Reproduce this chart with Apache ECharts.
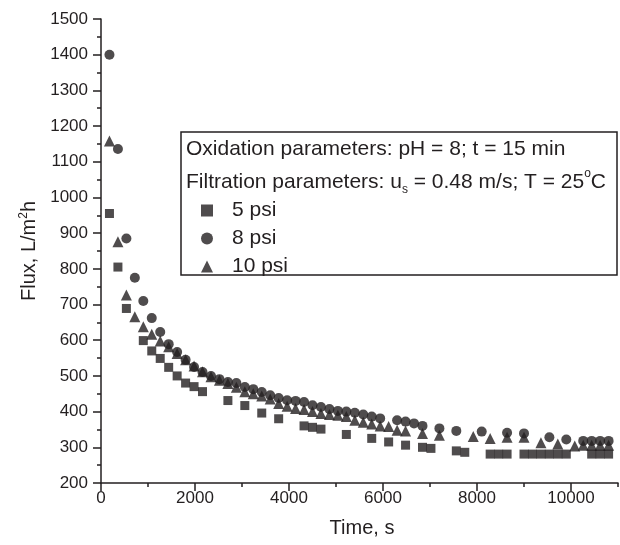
<!DOCTYPE html>
<html><head><meta charset="utf-8">
<script src="https://cdn.jsdelivr.net/npm/echarts@6/dist/echarts.min.js"></script>
<style>html,body{margin:0;padding:0;background:#fff}#c{width:620px;height:545px}</style>
</head><body><div id="c"></div>
<script>
// ---- data (time in s, flux in L/m2h) ----
const seriesNames = ['5 psi', '8 psi', '10 psi'];
const time5 = [180,360,540,900,1080,1260,1440,1620,1800,1980,2160,2700,3060,3420,3780,4320,4500,4680,5220,5760,6120,6480,6840,7020,7560,7740,8280,8460,8640,9000,9180,9360,9540,9720,9900,10440,10620,10800];
const flux5 = [955,805,689,599,570,549,524,500,480,470,456,431,417,396,380,360,356,351,336,325,315,306,300,297,290,286,281,281,281,281,281,281,281,281,281,281,281,281];
const time8 = [180,360,540,720,900,1080,1260,1440,1620,1800,1980,2160,2340,2520,2700,2880,3060,3240,3420,3600,3780,3960,4140,4320,4500,4680,4860,5040,5220,5400,5580,5760,5940,6300,6480,6660,6840,7200,7560,8100,8640,9000,9540,9900,10260,10440,10620,10800];
const flux8 = [1400,1136,885,775,710,662,623,589,567,545,525,511,500,491,483,480,469,463,455,446,438,432,430,427,418,413,407,402,400,397,392,386,381,376,372,367,360,353,346,344,341,339,328,322,318,318,318,318];
const time10 = [180,360,540,720,900,1080,1260,1440,1620,1800,1980,2160,2340,2520,2700,2880,3060,3240,3420,3600,3780,3960,4140,4320,4500,4680,4860,5040,5220,5400,5580,5760,5940,6120,6300,6480,6840,7200,7920,8280,8640,9000,9360,9720,10080,10260,10440,10620,10800];
const flux10 = [1158,876,727,666,638,617,598,582,563,545,528,512,498,488,479,468,456,450,444,435,423,415,409,406,400,395,392,390,386,376,370,365,360,358,348,346,339,334,330,325,328,328,313,309,304,306,306,306,306];
const xTickLabels = [0,2000,4000,6000,8000,10000];
const xMinorTicks = [1000,3000,5000,7000,9000,11000];
const yTickLabels = [200,300,400,500,600,700,800,900,1000,1100,1200,1300,1400,1500];

const pairs = (t, f) => t.map((v, i) => [v, f[i]]);
const INK = '#231f20';
const FONT = 'Liberation Sans, Arial, sans-serif';

const chart = echarts.init(document.getElementById('c'), null, {renderer: 'canvas'});
chart.setOption({
  animation: false,
  backgroundColor: '#fff',
  grid: {left: 101, top: 19, width: 517, height: 464, containLabel: false},
  xAxis: [{
    type: 'value', min: 0, max: 11000, interval: 1000, position: 'bottom',
    axisLine: {show: true, lineStyle: {color: INK, width: 1.5}},
    axisTick: {show: true, length: 8, customValues: xTickLabels, lineStyle: {color: INK, width: 1.5}},
    splitLine: {show: false},
    axisLabel: {color: INK, fontFamily: FONT, fontSize: 17, margin: 7, customValues: xTickLabels,
      formatter: v => String(v)}
  }, {
    type: 'value', min: 0, max: 11000, interval: 1000, position: 'bottom',
    axisLine: {show: false},
    axisTick: {show: true, length: 4, customValues: xMinorTicks, lineStyle: {color: INK, width: 1.5}},
    splitLine: {show: false},
    axisLabel: {show: false}
  }],
  yAxis: {
    type: 'value', min: 200, max: 1500, interval: 100,
    axisLine: {show: true, lineStyle: {color: INK, width: 1.5}},
    axisTick: {show: true, length: 8, lineStyle: {color: INK, width: 1.5}},
    minorTick: {show: true, splitNumber: 2, length: 4, lineStyle: {color: INK, width: 1.5}},
    splitLine: {show: false},
    axisLabel: {color: INK, fontFamily: FONT, fontSize: 17, margin: 13,
      formatter: v => yTickLabels.indexOf(v) >= 0 ? String(v) : ''},
    name: '{a|Flux, L/m}{sup|2}{a|h}',
    nameLocation: 'middle', nameGap: 60, nameRotate: 90,
    nameTextStyle: {rich: {
      a: {fontFamily: FONT, fontSize: 20, color: INK, lineHeight: 24},
      sup: {fontFamily: FONT, fontSize: 12, color: INK, lineHeight: 24, verticalAlign: 'top', padding: [1,0,0,0]}
    }}
  },
  legend: {
    orient: 'vertical', left: 196, top: 195, itemGap: 7, padding: 5,
    itemWidth: 12, itemHeight: 12,
    data: seriesNames,
    textStyle: {fontFamily: FONT, fontSize: 21, color: INK, lineHeight: 17, padding: [0,0,0,14]}
  },
  graphic: [
    {type: 'rect', shape: {x: 181, y: 132, width: 436, height: 143},
     style: {fill: 'none', stroke: INK, lineWidth: 1.5}, z: 10},
    {type: 'text', left: 186, top: 139, z: 11,
     style: {text: 'Oxidation parameters: pH = 8; t = 15 min', font: '21px ' + FONT, fill: INK}},
    {type: 'text', left: 186, top: 168, z: 11,
     style: {text: '{a|Filtration parameters: u}{sub|s}{a| = 0.48 m/s; T = 25}{sup|o}{a|C}',
       rich: {
         a: {fontFamily: FONT, fontSize: 21, fill: INK, lineHeight: 28, verticalAlign: 'middle'},
         sub: {fontFamily: FONT, fontSize: 12, fill: INK, lineHeight: 12, verticalAlign: 'bottom'},
         sup: {fontFamily: FONT, fontSize: 12, fill: INK, lineHeight: 12, verticalAlign: 'top'}
       }}},
    {type: 'text', x: 362, y: 528, z: 11,
     style: {text: 'Time, s', font: '20px ' + FONT, fill: INK, align: 'center', verticalAlign: 'middle'}}
  ],
  series: [
    {name: seriesNames[0], type: 'scatter', symbol: 'rect', symbolSize: 9,
     itemStyle: {color: INK}, data: pairs(time5, flux5)},
    {name: seriesNames[1], type: 'scatter', symbol: 'circle', symbolSize: 10,
     itemStyle: {color: INK}, data: pairs(time8, flux8)},
    {name: seriesNames[2], type: 'scatter', symbol: 'triangle', symbolSize: 11,
     itemStyle: {color: INK}, data: pairs(time10, flux10)}
  ]
});
</script></body></html>
